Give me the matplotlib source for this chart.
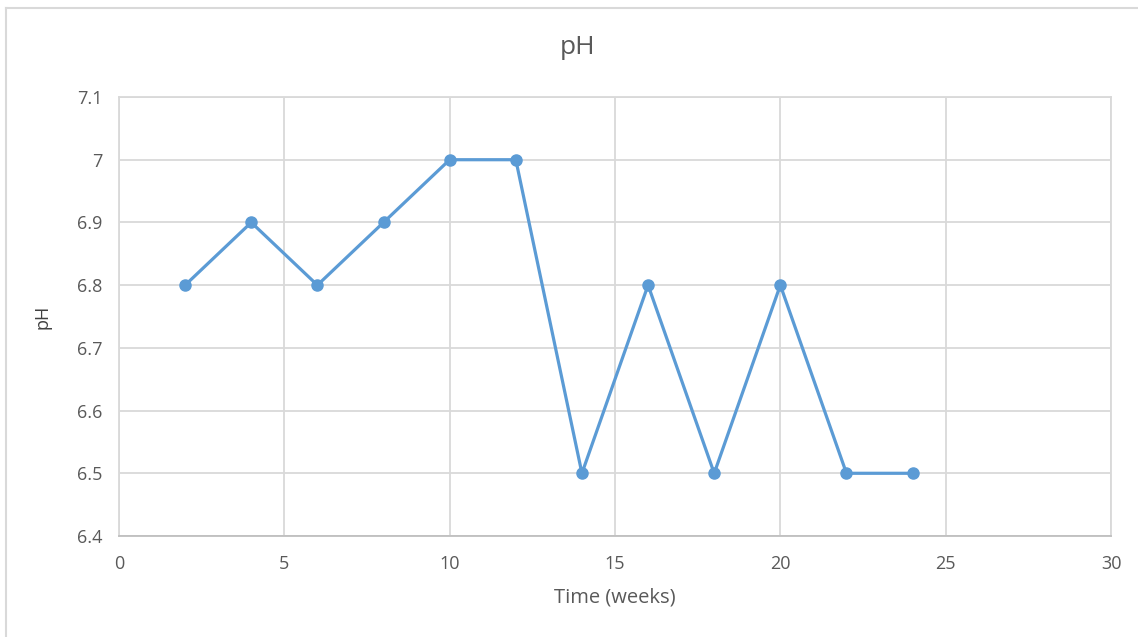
import matplotlib
matplotlib.use("Agg")
import matplotlib.pyplot as plt
from matplotlib.lines import Line2D

weeks = [2, 4, 6, 8, 10, 12, 14, 16, 18, 20, 22, 24]
ph_values = [6.8, 6.9, 6.8, 6.9, 7.0, 7.0, 6.5, 6.8, 6.5, 6.8, 6.5, 6.5]
x_ticks = [0, 5, 10, 15, 20, 25, 30]
y_ticks = [6.4, 6.5, 6.6, 6.7, 6.8, 6.9, 7.0, 7.1]
y_tick_labels = ["6.4", "6.5", "6.6", "6.7", "6.8", "6.9", "7", "7.1"]

plt.rcParams['font.family'] = ['Open Sans', 'DejaVu Sans']

W, H = 1138, 637
fig = plt.figure(figsize=(W / 100, H / 100), dpi=100)
ax = fig.add_axes([119 / W, 1 - 536 / H, (1111 - 119) / W, (536 - 97) / H])

grid_col = "#d9d9d9"
text_col = "#595959"

ax.plot(weeks, ph_values, color="#5b9bd5", linewidth=2.3, marker="o",
        markersize=8, markerfacecolor="#5b9bd5", markeredgecolor="#5b9bd5", zorder=3)

ax.set_xlim(0, 30)
ax.set_ylim(6.4, 7.1)
ax.set_xticks(x_ticks)
ax.set_yticks(y_ticks)
ax.set_yticklabels(y_tick_labels)
ax.grid(True, color=grid_col, linewidth=1.3)
ax.set_axisbelow(True)
for s in ax.spines.values():
    s.set_color(grid_col)
    s.set_linewidth(1.3)
ax.spines['bottom'].set_color("#bfbfbf")
ax.tick_params(length=0, labelsize=13, colors=text_col)
ax.tick_params(axis='x', pad=14)
ax.tick_params(axis='y', pad=12)

ax.set_xlabel("Time (weeks)", fontsize=14.5, color=text_col, labelpad=10)
ax.set_ylabel("pH", fontsize=13, color="#404040", labelpad=18)
fig.text(578 / W, 1 - 48 / H, "pH", fontsize=19, color=text_col,
         ha="center", va="center")

# outer chart border (top and left edges)
fig.add_artist(Line2D([6 / W, 6 / W], [0, 1 - 8 / H], color="#d9d9d9", linewidth=1.5))
fig.add_artist(Line2D([6 / W, 1], [1 - 8 / H, 1 - 8 / H], color="#d9d9d9", linewidth=1.5))

fig.savefig("out.png", dpi=100)
